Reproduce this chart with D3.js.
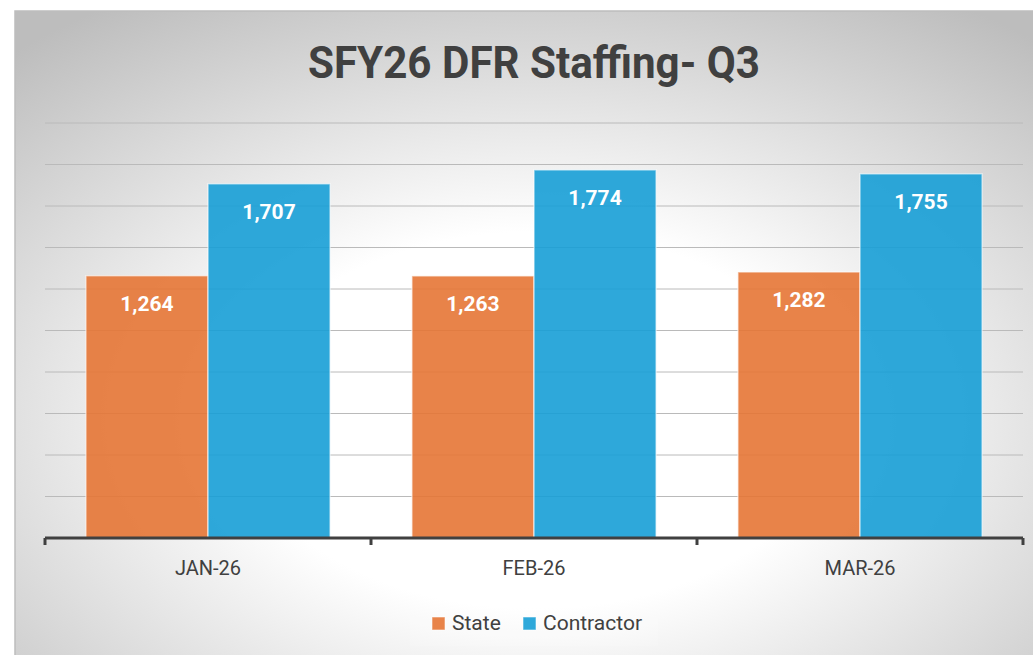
<!DOCTYPE html>
<html>
<head>
<meta charset="utf-8">
<script src="https://cdn.jsdelivr.net/npm/d3@7"></script>
<style>
  body { margin: 0; background: #fff; }
  svg { display: block; font-family: Roboto, "Noto Sans", sans-serif; }
</style>
</head>
<body>
<div id="chart"></div>
<script>
const months = ["JAN-26", "FEB-26", "MAR-26"];
const seriesNames = ["State", "Contractor"];
const stateValues = [1264, 1263, 1282];
const contractorValues = [1707, 1774, 1755];
const yTicks = [0, 200, 400, 600, 800, 1000, 1200, 1400, 1600, 1800, 2000];

const colors = { State: "#e67535", Contractor: "#179ed6" };

const width = 1033, height = 655;
const plot = { left: 45, right: 1023, top: 123, bottom: 538 };

const svg = d3.select("#chart").append("svg")
  .attr("width", width)
  .attr("height", height);

// background radial gradient, like the office chart area
const defs = svg.append("defs");
const grad = defs.append("radialGradient")
  .attr("id", "bg")
  .attr("cx", 0.5).attr("cy", 0.62).attr("r", 0.75);
grad.append("stop").attr("offset", 0).attr("stop-color", "#ffffff");
grad.append("stop").attr("offset", 0.38).attr("stop-color", "#ffffff");
grad.append("stop").attr("offset", 1).attr("stop-color", "#bdbdbd");

svg.append("rect")
  .attr("x", 15).attr("y", 11)
  .attr("width", 1040).attr("height", 660)
  .attr("fill", "url(#bg)")
  .attr("stroke", "#bdbdbd")
  .attr("stroke-width", 1.5);

// title
svg.append("text")
  .attr("x", (plot.left + plot.right) / 2)
  .attr("y", 78)
  .attr("text-anchor", "middle")
  .attr("font-size", 45)
  .attr("font-weight", 700)
  .attr("fill", "#404040")
  .attr("textLength", 452)
  .attr("lengthAdjust", "spacingAndGlyphs")
  .text("SFY26 DFR Staffing- Q3");

const x = d3.scaleBand()
  .domain(months)
  .range([plot.left, plot.right])
  .padding(0);

const xInner = d3.scaleBand()
  .domain(seriesNames)
  .range([0, x.bandwidth()])
  .paddingInner(0)
  .paddingOuter(0.335);

const y = d3.scaleLinear()
  .domain([0, 2000])
  .range([plot.bottom, plot.top]);

// gridlines
svg.append("g")
  .selectAll("line")
  .data(yTicks.slice(1))
  .join("line")
  .attr("x1", plot.left).attr("x2", plot.right)
  .attr("y1", d => y(d)).attr("y2", d => y(d))
  .attr("stroke", "#bababa")
  .attr("stroke-width", 1);

const rows = months.map((m, i) => ({
  month: m,
  values: [
    { key: "State", value: stateValues[i] },
    { key: "Contractor", value: contractorValues[i] }
  ]
}));

const groups = svg.append("g")
  .selectAll("g")
  .data(rows)
  .join("g")
  .attr("transform", d => `translate(${x(d.month)},0)`);

groups.selectAll("rect")
  .data(d => d.values)
  .join("rect")
  .attr("x", d => xInner(d.key))
  .attr("y", d => y(d.value))
  .attr("width", xInner.bandwidth())
  .attr("height", d => y(0) - y(d.value))
  .attr("fill", d => colors[d.key])
  .attr("fill-opacity", 0.9)
  .attr("stroke", "#ffffff")
  .attr("stroke-opacity", 0.55)
  .attr("stroke-width", 1.5);

groups.selectAll("text")
  .data(d => d.values)
  .join("text")
  .attr("x", d => xInner(d.key) + xInner.bandwidth() / 2)
  .attr("y", d => y(d.value) + 35)
  .attr("text-anchor", "middle")
  .attr("font-size", 21)
  .attr("font-weight", 700)
  .attr("fill", "#ffffff")
  .text(d => d3.format(",")(d.value));

// x axis
const xAxis = svg.append("g")
  .attr("transform", `translate(0,${plot.bottom})`)
  .call(d3.axisBottom(x).tickSize(0).tickPadding(23));
xAxis.select(".domain")
  .attr("d", `M${plot.left},0H${plot.right}`)
  .attr("stroke", "#404040")
  .attr("stroke-width", 3);
xAxis.selectAll(".tick text")
  .attr("font-size", 20)
  .attr("font-family", "Roboto, sans-serif")
  .attr("fill", "#404040");

svg.append("g")
  .selectAll("line")
  .data(months.map(m => x(m)).concat([plot.right]))
  .join("line")
  .attr("x1", d => d).attr("x2", d => d)
  .attr("y1", plot.bottom).attr("y2", plot.bottom + 7)
  .attr("stroke", "#404040")
  .attr("stroke-width", 3);

// legend
const legend = svg.append("g");
legend.append("rect")
  .attr("x", 410).attr("y", 602)
  .attr("width", 248).attr("height", 44)
  .attr("fill", "#ffffff")
  .attr("fill-opacity", 0.15);

const legendX = [432, 523];
const items = legend.selectAll("g")
  .data(seriesNames)
  .join("g")
  .attr("transform", (d, i) => `translate(${legendX[i]},617)`);
items.append("rect")
  .attr("width", 13).attr("height", 13)
  .attr("fill", d => colors[d])
  .attr("fill-opacity", 0.9)
  .attr("stroke", "#ffffff")
  .attr("stroke-opacity", 0.55);
items.append("text")
  .attr("x", 20)
  .attr("y", 13)
  .attr("font-size", 21)
  .attr("fill", "#404040")
  .text(d => d);
</script>
</body>
</html>
